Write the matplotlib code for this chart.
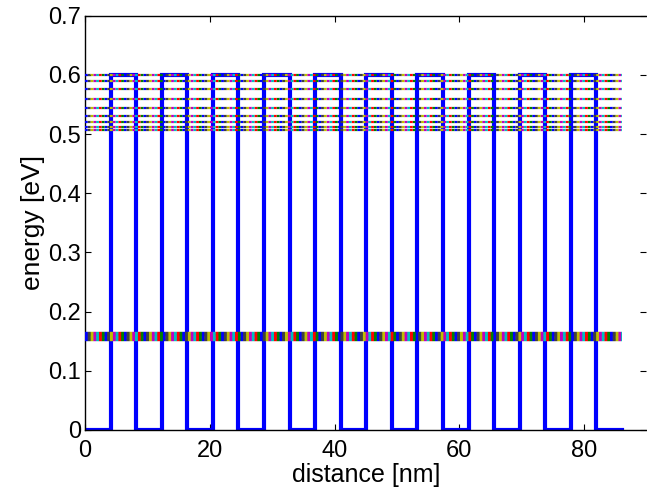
import numpy as np
import matplotlib
matplotlib.use("Agg")
import matplotlib.pyplot as plt

# ---- data ----
layer_thickness_nm = [4.1] * 21
layer_potential_eV = [0.0, 0.6] * 10 + [0.0]

lower_band_eV = [0.1522, 0.1527, 0.1537, 0.1550, 0.1566, 0.1582,
                 0.1598, 0.1613, 0.1625, 0.1634, 0.1639]
upper_band_eV = [0.5063, 0.5124, 0.5209, 0.5310, 0.5445,
                 0.5587, 0.5756, 0.5896, 0.5998]

level_colors = [(0, 0, 1), (0, 0.5, 0), (1, 0, 0), (0, 0.75, 0.75),
                (0.75, 0, 0.75), (0.75, 0.75, 0), (0.25, 0.25, 0.25)]

x_ticks = [0, 20, 40, 60, 80]
y_ticks = [0, 0.1, 0.2, 0.3, 0.4, 0.5, 0.6, 0.7]
y_tick_labels = ["0", "0.1", "0.2", "0.3", "0.4", "0.5", "0.6", "0.7"]

# ---- figure ----
plt.rcParams['font.family'] = ['Liberation Sans', 'DejaVu Sans']
plt.rcParams['lines.scale_dashes'] = False

fig = plt.figure(figsize=(6.47, 4.93), dpi=100)
ax = fig.add_axes([85 / 647, 63 / 493, 561.4 / 647, 414.3 / 493])

bounds = np.concatenate([[0], np.cumsum(layer_thickness_nm)])
xs = np.repeat(bounds, 2)[1:-1]
ys = np.repeat(layer_potential_eV, 2)
ax.plot(xs, ys, color=(0, 0, 1), lw=3.0, solid_joinstyle='miter', zorder=2)

x_end = bounds[-1]
period = 14.0
on = 2.0
for E in lower_band_eV + upper_band_eV:
    for k, c in enumerate(level_colors):
        ax.plot([0, x_end], [E, E], color=c, lw=1.6,
                linestyle=(k * on, (on, period - on)), zorder=3)

ax.set_xlim(0, 90)
ax.set_ylim(0, 0.7)
ax.set_xticks(x_ticks)
ax.set_yticks(y_ticks)
ax.set_yticklabels(y_tick_labels)
ax.tick_params(direction='in', length=4, width=0.8, top=True, right=True,
               labelsize=17)
ax.tick_params(axis='y', pad=3)
ax.tick_params(axis='x', pad=7)
for s in ['left', 'bottom', 'top']:
    ax.spines[s].set_linewidth(1.0)
ax.spines['right'].set_visible(False)

ax.set_xlabel('distance [nm]', fontsize=18, labelpad=1)
ax.set_ylabel('energy [eV]', fontsize=19, labelpad=2)

fig.savefig('out.png', dpi=100)
